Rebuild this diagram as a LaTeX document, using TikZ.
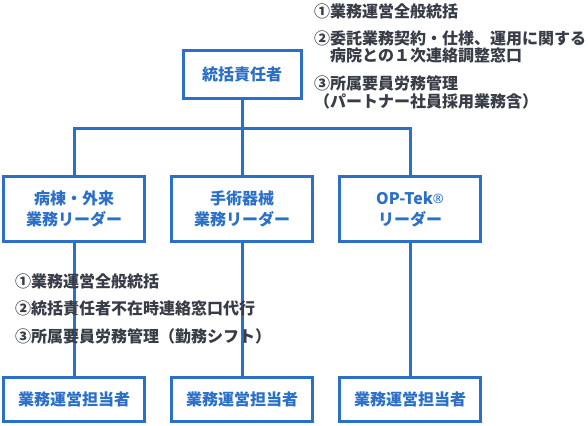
\documentclass[tikz,border=0pt]{standalone}
\usepackage{fontspec}
\setmainfont{Noto Sans CJK JP}
\newfontfamily\latinfont{Noto Sans}
\definecolor{myblue}{RGB}{42,112,200}
\definecolor{mytext}{RGB}{55,60,70}
\begin{document}
\begin{tikzpicture}[x=1pt,y=-1pt,
  box/.style={draw=myblue, line width=3pt, fill=white, text=myblue,
    font=\bfseries\fontsize{16}{19}\selectfont, align=center, inner sep=0pt},
  midbox/.style={box, minimum width=141pt, minimum height=65pt},
  lowbox/.style={box, minimum width=141pt, minimum height=44pt},
  conn/.style={draw=myblue, line width=3pt},
  note/.style={text=mytext, font=\bfseries\fontsize{16}{19}\selectfont, anchor=west, inner sep=0pt}]
\useasboundingbox (0,0) rectangle (588,425);
% boxes
\node[box, minimum width=118pt, minimum height=48pt] (top) at (242,74.5) {統括責任者};
\node[midbox] (m1) at (74,209) {病棟・外来\\[2pt]業務リーダー};
\node[midbox] (m2) at (242,209) {手術器械\\[2pt]業務リーダー};
\node[midbox] (m3) at (410,209) {OP-Tek{\latinfont\bfseries\raisebox{1pt}{\fontsize{13}{13}\selectfont®}}\\[2pt]リーダー};
\node[lowbox] (b1) at (74,399.5) {業務運営担当者};
\node[lowbox] (b2) at (242,399.5) {業務運営担当者};
\node[lowbox] (b3) at (410,399.5) {業務運営担当者};
% connectors
\coordinate (jl) at (74,128);
\coordinate (jm) at (242,128);
\coordinate (jr) at (410,128);
\draw[conn] (top.south) -- (jm);
\draw[conn] (m1.north) -- (jl) -- (jr) -- (m3.north);
\draw[conn] (jm) -- (m2.north);
\draw[conn] (m1.south) -- (b1.north);
\draw[conn] (m2.south) -- (b2.north);
\draw[conn] (m3.south) -- (b3.north);
% top annotation
\node[note] (t1) at (314,11) {①業務運営全般統括};
\node[note] (t2) at (314,38.5) {②委託業務契約・仕様、運用に関する};
\node[note] (t2b) at (330,55.5) {病院との１次連絡調整窓口};
\node[note] (t3) at (314,83.5) {③所属要員労務管理};
\node[note] (t3b) at (314,101) {（パートナー社員採用業務含）};
% lower annotation
\node[note] (l1) at (15,281) {①業務運営全般統括};
\node[note] (l2) at (15,308.5) {②統括責任者不在時連絡窓口代行};
\node[note] (l3) at (15,336) {③所属要員労務管理（勤務シフト）};
\end{tikzpicture}
\end{document}
